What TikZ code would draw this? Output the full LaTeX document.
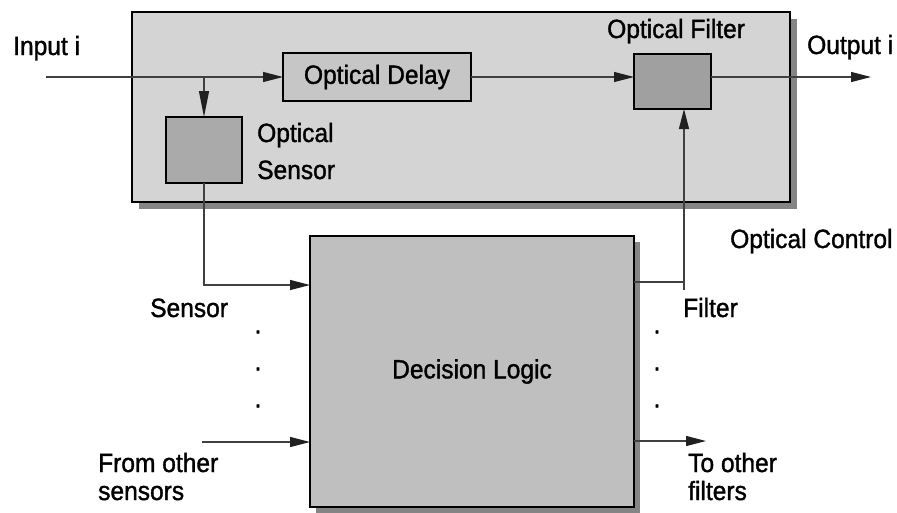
\documentclass[tikz,border=0pt]{standalone}
\usepackage{fontspec}
\setmainfont{Liberation Sans}[FakeStretch=0.93, FakeBold=1.3]
\usetikzlibrary{arrows.meta,shadows}

\definecolor{modfill}{HTML}{D4D4D4}
\definecolor{delayfill}{HTML}{C6C6C6}
\definecolor{sensfill}{HTML}{AAAAAA}
\definecolor{filtfill}{HTML}{A0A0A0}
\definecolor{logicfill}{HTML}{BFBFBF}
\definecolor{shadowgray}{HTML}{858585}
\definecolor{wire}{HTML}{404040}
\definecolor{tipfill}{HTML}{202020}

\tikzset{
  txt/.style={inner sep=0pt, font=\fontsize{26.4}{31}\selectfont},
  lbl/.style={txt, anchor=base west},
  dotmark/.style={txt, anchor=center},
  blockbox/.style={draw=black, line width=1.4pt, anchor=north west,
    inner sep=0pt, outer sep=0pt, txt},
  shadowed/.style={drop shadow={shadow xshift=#1, shadow yshift=-#1,
    fill=shadowgray, opacity=1}},
  wireline/.style={draw=wire, line width=1.3pt},
  tip/.style={-{Triangle[length=20pt,width=10pt,color=tipfill]}},
  longtip/.style={-{Triangle[length=26pt,width=10pt,color=tipfill]}},
}

\begin{document}
\begin{tikzpicture}[x=1pt,y=-1pt]
\useasboundingbox (0,0) rectangle (897,512);

% optical module frame
\node[blockbox, shadowed=7pt, fill=modfill, minimum width=658pt, minimum height=190pt]
  (module) at (132,12) {};

% blocks inside the module
\node[blockbox, fill=delayfill, minimum width=188pt, minimum height=48pt]
  (delay) at (283,53) {Optical Delay};
\node[blockbox, fill=sensfill, minimum width=76pt, minimum height=66pt]
  (sensor) at (166,117) {};
\node[blockbox, fill=filtfill, minimum width=77pt, minimum height=55pt]
  (filter) at (634,54) {};

% decision logic block
\node[blockbox, shadowed=6pt, fill=logicfill, minimum width=324pt, minimum height=271pt]
  (logic) at (310,236) {Decision Logic};

% connector end points
\coordinate (inp) at (46,77);
\coordinate (split) at (204,77);
\coordinate (outp) at (871,77);
\coordinate (sin) at (310,285);
\coordinate (oin) at (202,442);
\coordinate (fout) at (634,282);
\coordinate (ctl) at (684,282);
\coordinate (ctlend) at (684,290);
\coordinate (oout) at (706,441);

% optical path
\draw[wireline, tip] (inp) -- (delay.west);
\draw[wireline, longtip] (split) -- (split |- sensor.north);
\draw[wireline, tip] (delay.east) -- (delay.east -| filter.west);
\draw[wireline, tip] (delay.east -| filter.east) -- (outp);

% electrical signals
\draw[wireline, tip] (sensor.south -| split) |- (sin);
\draw[wireline, tip] (oin) -- (oin -| logic.west);
\draw[wireline] (fout) -- (ctl);
\draw[wireline, tip] (ctlend) -- (ctlend |- filter.south);
\draw[wireline, tip] (fout |- oout) -- (oout);

% labels
\node[lbl] (linput) at (13,55) {Input i};
\node[lbl] (loutput) at (807,54) {Output i};
\node[lbl] (lsens1) at (257,142) {Optical};
\node[lbl] (lsens2) at (257,179) {Sensor};
\node[lbl] (lfilt) at (607,38) {Optical Filter};
\node[lbl] (lctl) at (730,248) {Optical Control};
\node[lbl] (lsensor) at (150,317) {Sensor};
\node[lbl] (lfilter) at (683,317) {Filter};
\node[lbl] (lfrom1) at (98,472) {From other};
\node[lbl] (lfrom2) at (98,500) {sensors};
\node[lbl] (lto1) at (688,472) {To other};
\node[lbl] (lto2) at (688,500) {filters};

% ellipsis dots
\node[dotmark] (dl1) at (258,332) {.};
\node[dotmark] (dl2) at (258,369) {.};
\node[dotmark] (dl3) at (258,406) {.};
\node[dotmark] (dr1) at (657,332) {.};
\node[dotmark] (dr2) at (657,369) {.};
\node[dotmark] (dr3) at (657,406) {.};
\end{tikzpicture}
\end{document}
